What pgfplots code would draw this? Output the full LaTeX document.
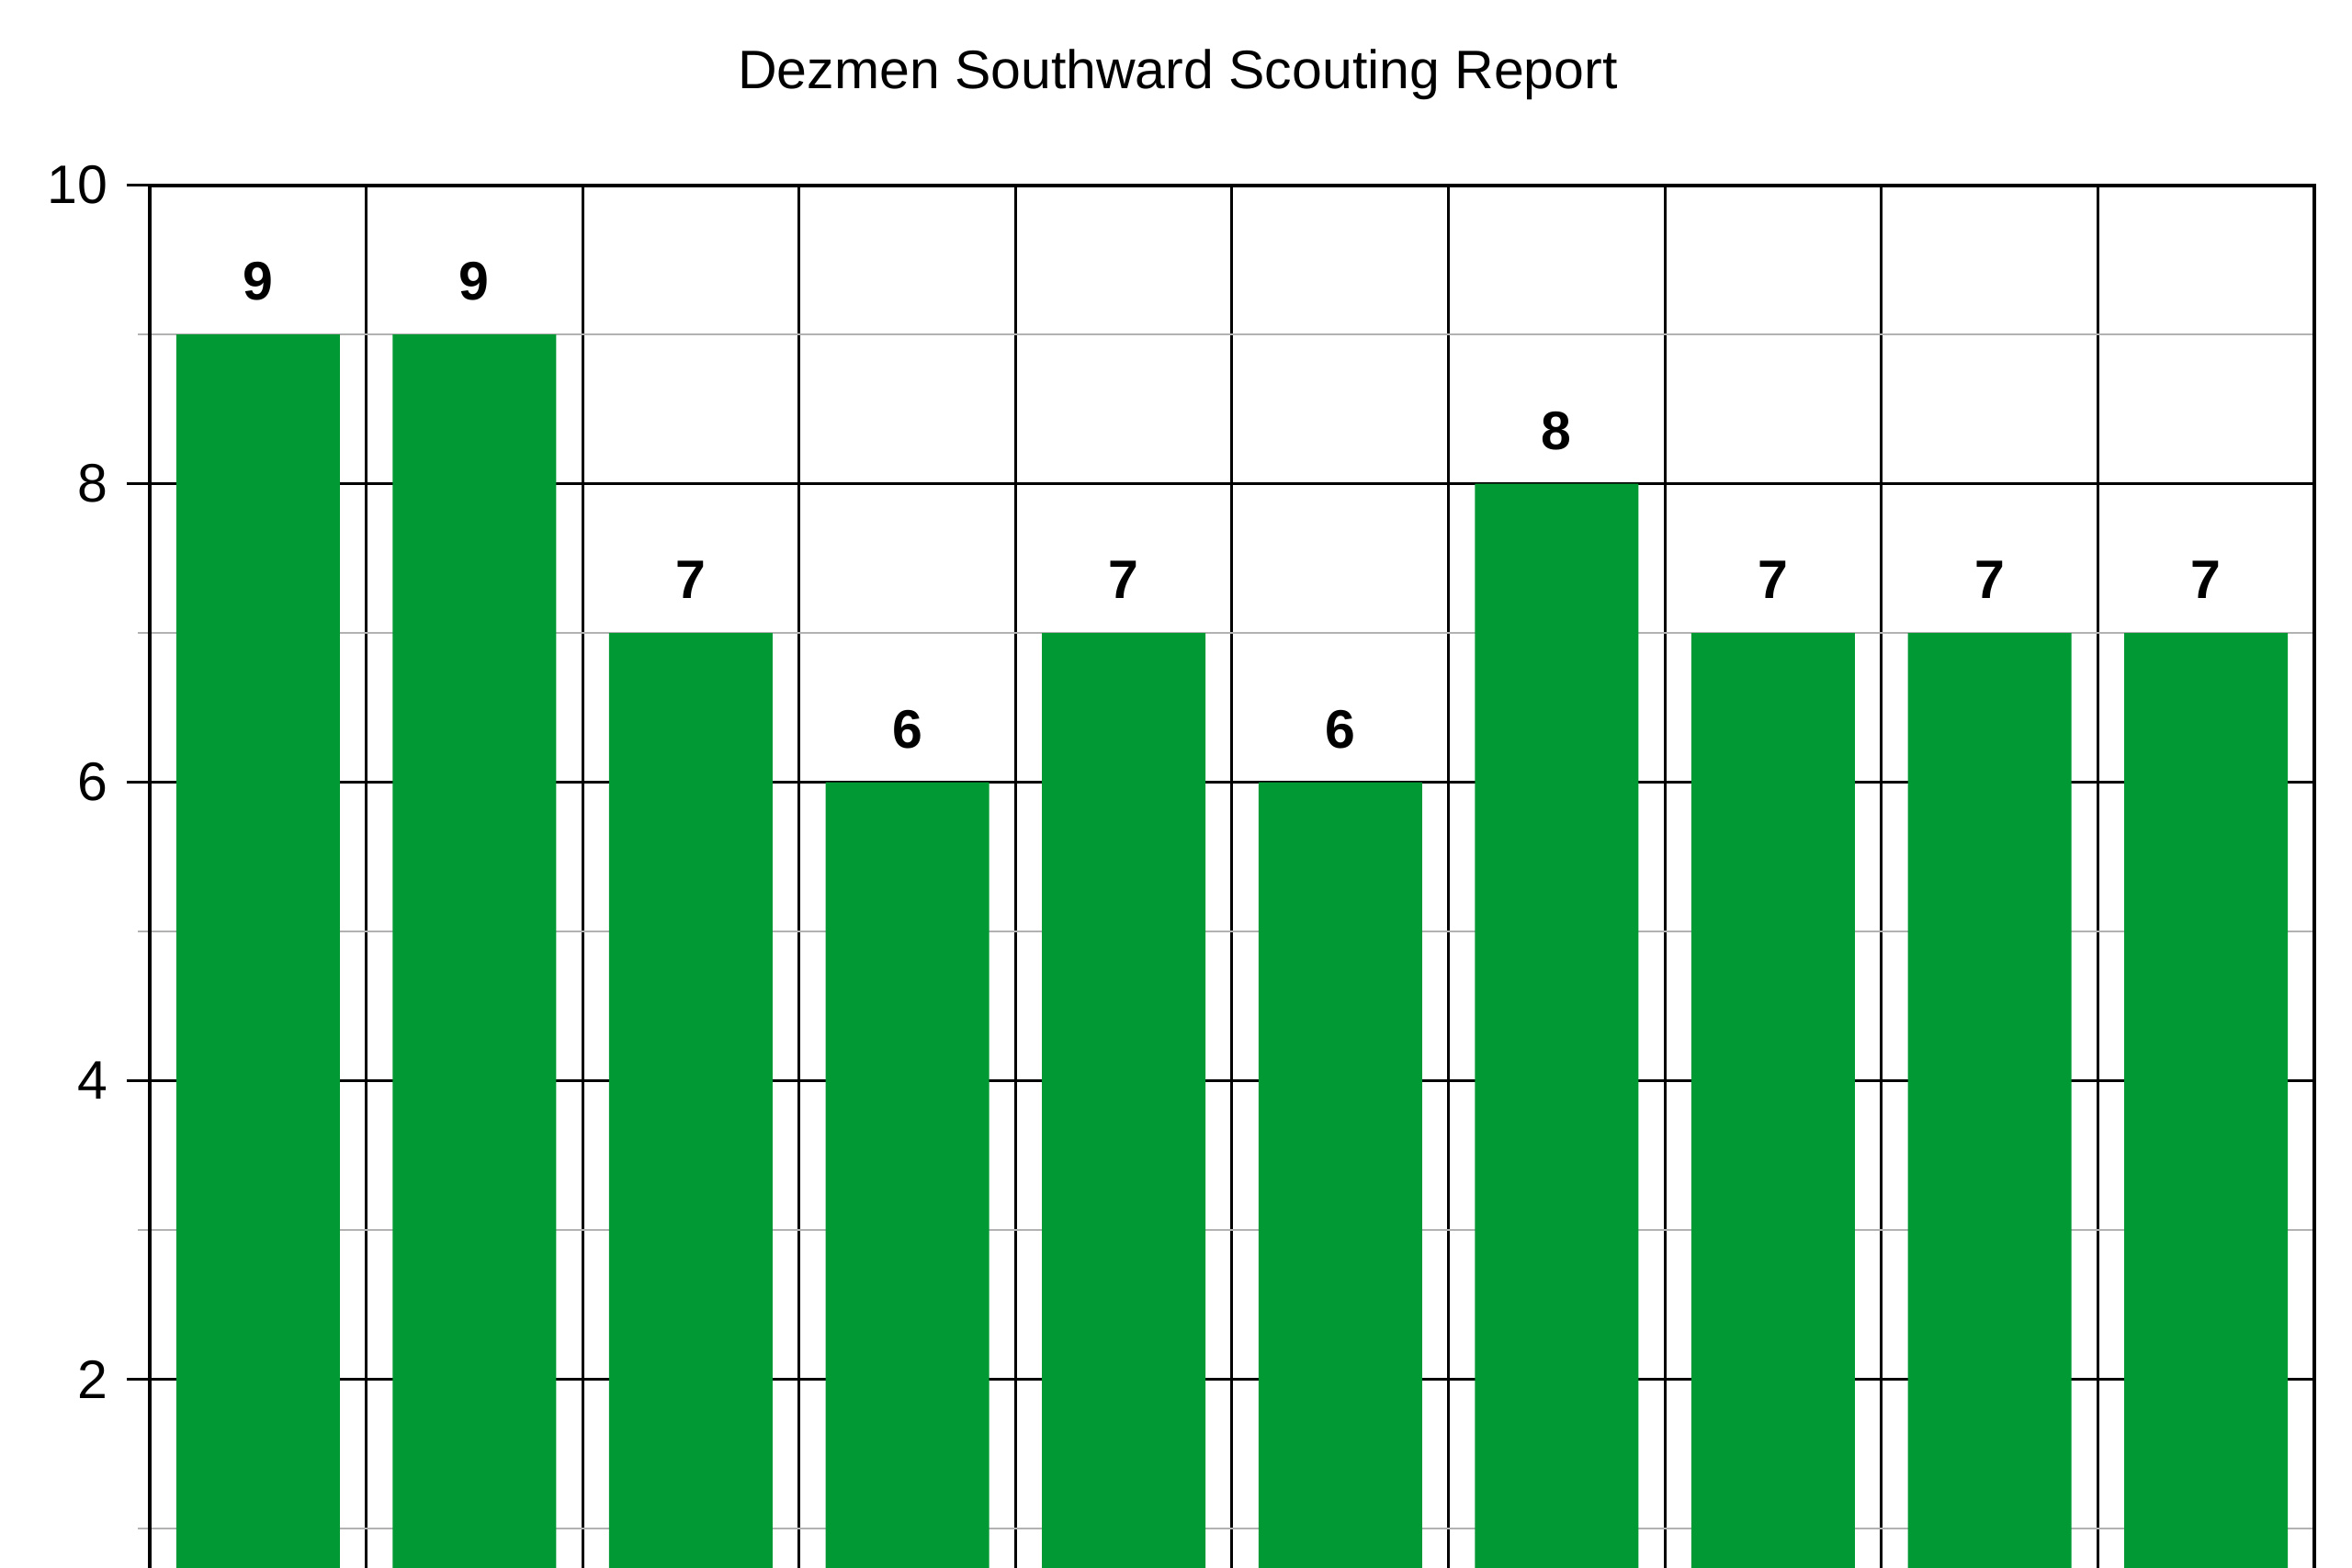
\documentclass[border=0pt]{standalone}
\usepackage{pgfplots}
\pgfplotsset{compat=1.18}
\usepackage{fontspec}
\setmainfont{Liberation Sans}
\definecolor{bargreen}{HTML}{009933}
\begin{document}
\begin{tikzpicture}
\begin{axis}[
  scale only axis,
  width=471.2pt, height=325pt,
  xmin=-0.5, xmax=9.5,
  ymin=0, ymax=10,
  xtick={0.5,1.5,2.5,3.5,4.5,5.5,6.5,7.5,8.5},
  xticklabels={},
  xmajorgrids,
  major x tick style={draw=none},
  x grid style={black, line width=0.6pt},
  ytick={2,4,6,8,10},
  minor ytick={1,3,5,7,9},
  ymajorgrids, yminorgrids,
  major y grid style={black, line width=0.6pt},
  minor y grid style={gray!60, line width=0.4pt},
  ytick pos=left,
  tick align=outside,
  major tick length=5pt,
  minor tick length=2.6pt,
  major y tick style={black, line width=0.6pt},
  minor y tick style={gray!60, line width=0.4pt},
  axis line style={black, line width=0.8pt},
  yticklabel style={font=\fontsize{11.8pt}{14pt}\selectfont, inner sep=0pt, xshift=-4pt},
  /pgf/number format/assume math mode=true,
  ybar, bar width=35.6pt,
  nodes near coords,
  every node near coord/.append style={font=\fontsize{11.8pt}{14pt}\selectfont\bfseries, anchor=center, yshift=11.5pt},
]
\addplot[fill=bargreen, draw=none] coordinates {
(0,9) (1,9) (2,7) (3,6) (4,7) (5,6) (6,8) (7,7) (8,7) (9,7)
};
\end{axis}
\node[anchor=base, font=\fontsize{11.8pt}{14pt}\selectfont] at (223.8pt,345.94pt) {Dezmen Southward Scouting Report};
\pgfresetboundingbox
\path (-32.6pt,23.94pt) rectangle (479.4pt,365.34pt);
\end{tikzpicture}
\end{document}
